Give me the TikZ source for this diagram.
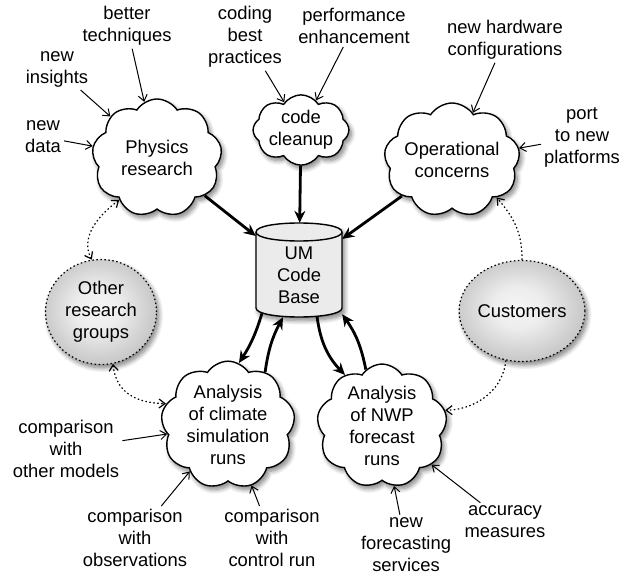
\documentclass[tikz,border=0pt]{standalone}
\usepackage{fontspec}
\setmainfont{Liberation Sans}
\usetikzlibrary{shapes.symbols,shapes.geometric,arrows.meta,shadows.blur,calc}
\tikzset{dtip/.tip={Straight Barb[length=6pt,width=9pt]}}
\pgfdeclareradialshading{grpshade}{\pgfpoint{-2bp}{2bp}}{color(0bp)=(black!4); color(10bp)=(black!7); color(25bp)=(black!21); color(50bp)=(black!21)}
\begin{document}
\begin{tikzpicture}[x=1pt,y=-1pt,
  font=\fontsize{18.4}{22}\selectfont,
  lab/.style={align=center, inner sep=3pt},
  shd/.style={blur shadow={shadow xshift=2.5pt, shadow yshift=-3.5pt, shadow blur radius=4.5pt, shadow blur steps=8, shadow opacity=50}},
  cl/.style={cloud, cloud puffs=9, cloud puff arc=115, cloud ignores aspect, draw, line width=1.4pt, fill=white, align=center, inner sep=0pt, shd},
  grp/.style={ellipse, draw, line width=1.2pt, dash pattern=on 1.5pt off 2.5pt, shade, shading=grpshade, align=center, inner sep=0pt, shd},
  tarr/.style={-dtip, line width=1pt},
  barr/.style={-{Stealth[length=12pt,width=11pt,inset=4pt]}, line width=2.8pt},
  dotl/.style={line width=1.2pt, dash pattern=on 1.5pt off 2.5pt},
]
\useasboundingbox (0,0) rectangle (629,575);

% clouds
\node[cl, minimum width=130, minimum height=118] (phys) at (157,158) {Physics\\research};
\node[cl, cloud puffs=8, minimum width=88, minimum height=68] (code) at (301,130) {code\\cleanup};
\node[cl, minimum width=128, minimum height=114] (oper) at (452,160) {Operational\\concerns};
\node[cl, minimum width=134, minimum height=112] (clim) at (228,425) {Analysis\\of climate\\simulation\\runs};
\node[cl, minimum width=130, minimum height=114] (nwp) at (382,426) {Analysis\\of NWP\\forecast\\runs};

% groups
\node[grp, minimum width=111, minimum height=105] (oth) at (101,312) {Other\\research\\groups};
\node[grp, minimum width=111, minimum height=101] (cust) at (522,311) {Customers};

% cylinder
\node[minimum width=86, minimum height=94, inner sep=0pt] (um) at (299,270) {};
\path[shd, fill=black!8, draw, line width=1.4pt]
  (256,232) -- (256,308) .. controls (256,320) and (342,320) .. (342,308)
  -- (342,232) .. controls (342,220) and (256,220) .. cycle;
\draw[line width=1.4pt] (256,232) .. controls (256,244) and (342,244) .. (342,232);
\node[lab] (umt) at (299,275) {UM\\Code\\Base};

% labels
\node[lab] (lbett) at (127,26) {better\\techniques};
\node[lab] (lcod) at (245,37) {coding\\best\\practices};
\node[lab] (lperf) at (354,26) {performance\\enhancement};
\node[lab] (lhw) at (505,40) {new hardware\\configurations};
\node[lab] (lins) at (57,69) {new\\insights};
\node[lab] (ldata) at (43,137) {new\\data};
\node[lab] (lport) at (582,137) {port\\to new\\platforms};
\node[lab] (lothm) at (66,449) {comparison\\with\\other models};
\node[lab] (lobs) at (135,538) {comparison\\with\\observations};
\node[lab] (lctrl) at (272,538) {comparison\\with\\control run};
\node[lab] (lfcst) at (406,545) {new\\forecasting\\services};
\node[lab] (lacc) at (505,522) {accuracy\\measures};

% thin arrows
\draw[tarr] (lbett) -- (phys);
\draw[tarr] (lins) -- (phys);
\draw[tarr] (ldata) -- (phys);
\draw[tarr] (lcod) -- (code);
\draw[tarr] (lperf) -- (code);
\draw[tarr] (lhw) -- (oper);
\draw[tarr] (lport) -- (oper);
\draw[tarr] (lothm) -- (clim);
\draw[tarr] (lobs) -- (clim);
\draw[tarr] (lctrl) -- (clim);
\draw[tarr] (lfcst) -- (nwp);
\draw[tarr] (lacc) -- (nwp);

% thick arrows
\draw[barr] (phys) -- (um);
\draw[barr] (code) -- (um);
\draw[barr] (oper) -- (um);
\draw[barr] ($(um.south)+(-37,-4)$) to[bend left=8] (clim.80);
\draw[barr] (clim.55) to[bend left=10] ($(um.south)+(-16,0)$);
\draw[barr] ($(um.south)+(18,-1)$) to[bend right=18] (nwp.126);
\draw[barr] (nwp.106) to[bend right=12] ($(um.south east)+(0,-3)$);

% dotted connectors
\draw[dotl, dtip-dtip] (phys.228) .. controls (86,225) and (84,245) .. (oth.100);
\draw[dotl, dtip-dtip] (oth.283) .. controls (116,392) and (135,403) .. (clim.161);
\draw[dotl, -dtip] (cust.90) .. controls (522,235) and (516,220) .. (oper.320);
\draw[dotl, -dtip] (cust.252) .. controls (502,395) and (470,410) .. (nwp.14);
\end{tikzpicture}
\end{document}
